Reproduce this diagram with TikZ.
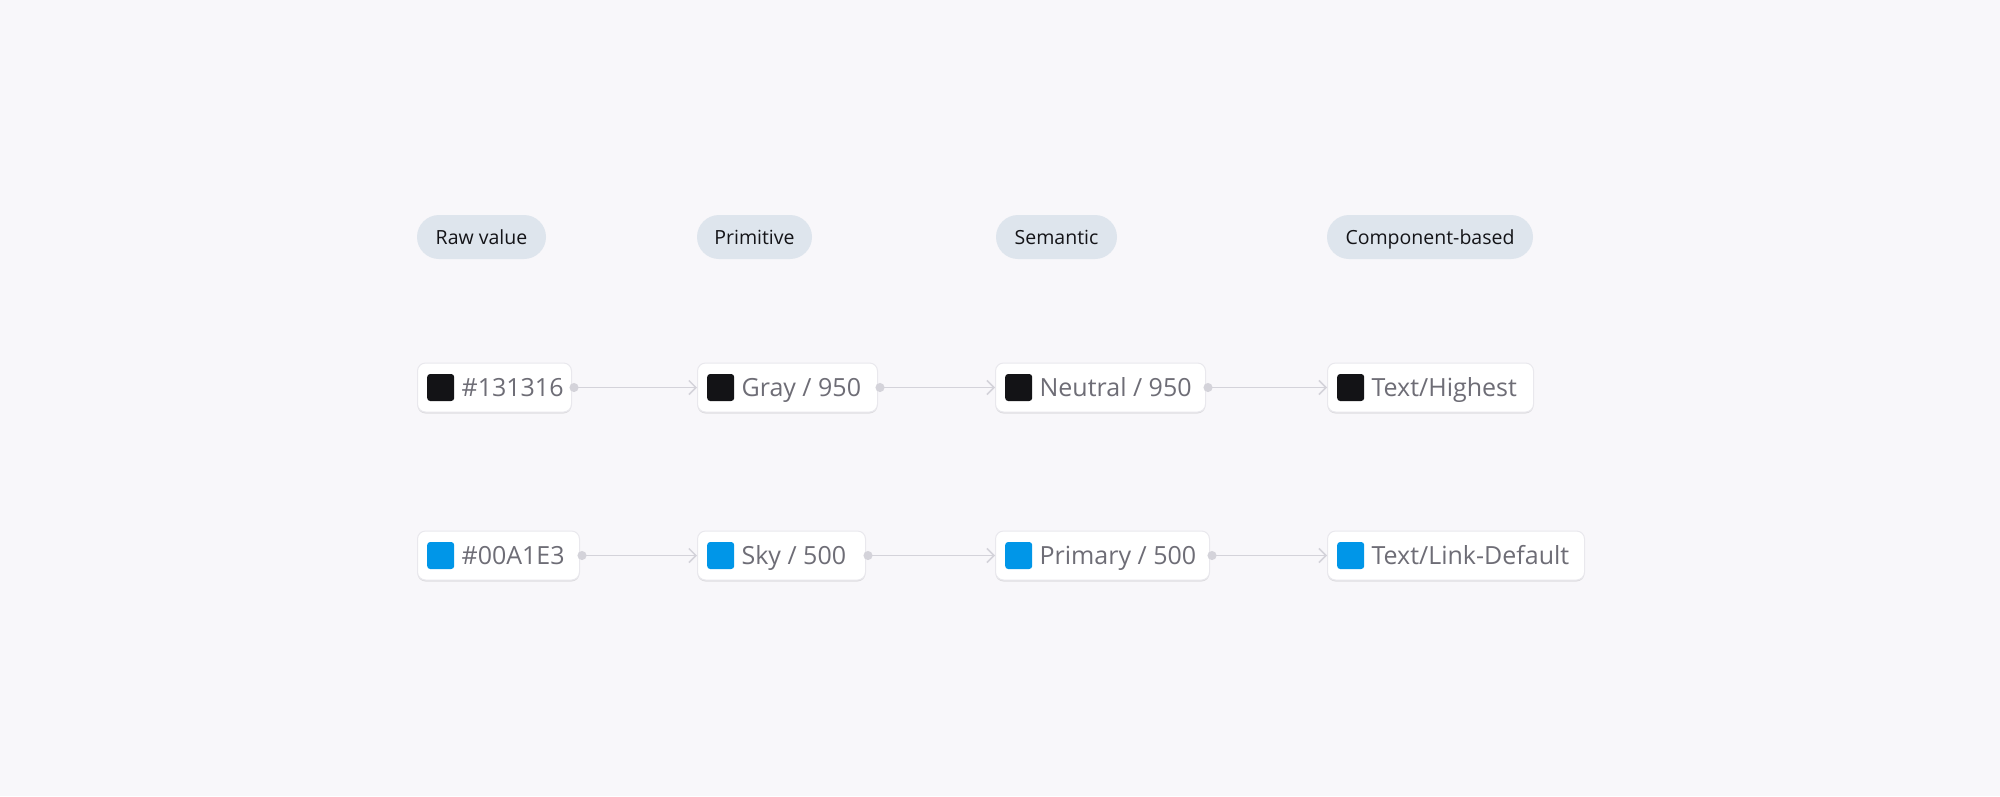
\documentclass[tikz,border=0pt]{standalone}
\usepackage{fontspec}
\setmainfont{Open Sans}
\usetikzlibrary{arrows.meta,shadows}

\definecolor{canvas}{RGB}{248,247,250}
\definecolor{pillbg}{RGB}{222,229,237}
\definecolor{headtext}{RGB}{20,20,24}
\definecolor{boxline}{RGB}{233,232,237}
\definecolor{tokengray}{RGB}{110,109,118}
\definecolor{linkgray}{RGB}{212,211,218}
\definecolor{ink}{RGB}{19,19,22}
\definecolor{sky}{RGB}{0,150,232}

\tikzset{
  header/.style={fill=pillbg, rounded corners=22pt, minimum height=44pt,
    inner sep=0pt, text height=14pt, text depth=0pt, text=headtext,
    font=\fontsize{19.5}{23}\selectfont},
  tokenbox/.style={fill=white, draw=boxline, line width=1pt,
    rounded corners=8pt, minimum height=49pt, inner sep=0pt, anchor=west,
    drop shadow={shadow xshift=0pt, shadow yshift=-1.5pt, fill=black, opacity=0.1}},
  swatch/.style={rounded corners=3pt, minimum size=27pt, inner sep=0pt, anchor=west},
  tokentext/.style={anchor=base west, inner sep=0pt, text=tokengray,
    font=\fontsize{25}{30}\selectfont},
  link/.style={draw=linkgray, line width=1.5pt,
    {Circle[length=9pt]}-{Straight Barb[length=7pt,width=14pt]}, shorten <=-2.5pt}
}

\begin{document}
\begin{tikzpicture}[x=1pt,y=-1pt]
\fill[canvas] (0,0) rectangle (2000,796);
\useasboundingbox (0,0) rectangle (2000,796);

%% column headers
\node (hraw)  [header, minimum width=129pt] at (481.5,237)  {Raw value};
\node (hprim) [header, minimum width=115pt] at (754.5,237)  {Primitive};
\node (hsem)  [header, minimum width=121pt] at (1056.5,237) {Semantic};
\node (hcomp) [header, minimum width=206pt] at (1430,237)   {Component-based};

%% dark row
\node (raw1)  [tokenbox, minimum width=154pt] at (417,387.5)  {};
\node (prim1) [tokenbox, minimum width=180pt] at (697,387.5)  {};
\node (sem1)  [tokenbox, minimum width=210pt] at (995,387.5)  {};
\node (comp1) [tokenbox, minimum width=206pt] at (1327,387.5) {};
\node (raw1sw)  [swatch, fill=ink] at ([xshift=10pt]raw1.west)  {};
\node (prim1sw) [swatch, fill=ink] at ([xshift=10pt]prim1.west) {};
\node (sem1sw)  [swatch, fill=ink] at ([xshift=10pt]sem1.west)  {};
\node (comp1sw) [swatch, fill=ink] at ([xshift=10pt]comp1.west) {};
\node (raw1txt)  [tokentext] at ([xshift=7pt,yshift=-9pt]raw1sw.east)  {\#131316};
\node (prim1txt) [tokentext] at ([xshift=7pt,yshift=-9pt]prim1sw.east) {Gray / 950};
\node (sem1txt)  [tokentext] at ([xshift=7pt,yshift=-9pt]sem1sw.east)  {Neutral / 950};
\node (comp1txt) [tokentext] at ([xshift=7pt,yshift=-9pt]comp1sw.east) {Text/Highest};
\draw[link] (raw1.east)  -- (prim1.west);
\draw[link] (prim1.east) -- (sem1.west);
\draw[link] (sem1.east)  -- (comp1.west);

%% blue row
\node (raw2)  [tokenbox, minimum width=162pt] at (417,555.5)  {};
\node (prim2) [tokenbox, minimum width=168pt] at (697,555.5)  {};
\node (sem2)  [tokenbox, minimum width=214pt] at (995,555.5)  {};
\node (comp2) [tokenbox, minimum width=257pt] at (1327,555.5) {};
\node (raw2sw)  [swatch, fill=sky] at ([xshift=10pt]raw2.west)  {};
\node (prim2sw) [swatch, fill=sky] at ([xshift=10pt]prim2.west) {};
\node (sem2sw)  [swatch, fill=sky] at ([xshift=10pt]sem2.west)  {};
\node (comp2sw) [swatch, fill=sky] at ([xshift=10pt]comp2.west) {};
\node (raw2txt)  [tokentext] at ([xshift=7pt,yshift=-9pt]raw2sw.east)  {\#00A1E3};
\node (prim2txt) [tokentext] at ([xshift=7pt,yshift=-9pt]prim2sw.east) {Sky / 500};
\node (sem2txt)  [tokentext] at ([xshift=7pt,yshift=-9pt]sem2sw.east)  {Primary / 500};
\node (comp2txt) [tokentext] at ([xshift=7pt,yshift=-9pt]comp2sw.east) {Text/Link-Default};
\draw[link] (raw2.east)  -- (prim2.west);
\draw[link] (prim2.east) -- (sem2.west);
\draw[link] (sem2.east)  -- (comp2.west);
\end{tikzpicture}
\end{document}
